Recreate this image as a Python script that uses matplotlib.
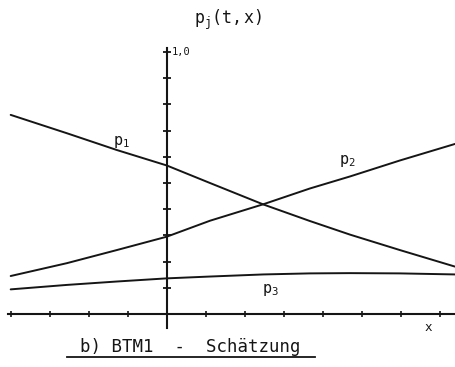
import matplotlib
matplotlib.use("Agg")
import matplotlib.pyplot as plt
from matplotlib.lines import Line2D

# ---- data ----
x_vals = [-4.0, -2.56, -1.28, 0.0, 1.11, 2.48, 3.67, 4.70, 5.98, 7.39]
p1 = [0.760, 0.690, 0.626, 0.567, 0.500, 0.418, 0.355, 0.303, 0.244, 0.181]
p2 = [0.145, 0.194, 0.244, 0.295, 0.356, 0.419, 0.479, 0.525, 0.586, 0.649]
p3 = [0.094, 0.111, 0.124, 0.136, 0.143, 0.151, 0.155, 0.156, 0.155, 0.151]
x_ticks = [-4, -3, -2, -1, 1, 2, 3, 4, 5, 6, 7]
y_ticks = [0.1, 0.2, 0.3, 0.4, 0.5, 0.6, 0.7, 0.8, 0.9, 1.0]
caption = "b) BTM1  -  Schätzung"

plt.rcParams['font.family'] = ['DejaVu Sans Mono']
plt.rcParams['mathtext.fontset'] = 'custom'
plt.rcParams['mathtext.rm'] = 'DejaVu Sans Mono'
plt.rcParams['mathtext.it'] = 'DejaVu Sans Mono'

fig = plt.figure(figsize=(4.56, 3.67), dpi=100)
ax = fig.add_axes([0, 0, 1, 1])
ax.set_xlim(-4.274, 7.418)
ax.set_ylim(-0.2023, 1.1985)

ink = '#151515'
for ys in (p1, p2, p3):
    ax.plot(x_vals, ys, color=ink, lw=1.4, solid_capstyle='round',
            solid_joinstyle='round')

# axes through origin
ax.spines['left'].set_position(('data', 0))
ax.spines['bottom'].set_position(('data', 0))
ax.spines['right'].set_visible(False)
ax.spines['top'].set_visible(False)
ax.spines['left'].set_bounds(-0.053, 1.015)
ax.spines['bottom'].set_bounds(-4.07, 7.42)
for s in ('left', 'bottom'):
    ax.spines[s].set_linewidth(1.5)
    ax.spines[s].set_color(ink)
ax.set_xticks(x_ticks)
ax.set_yticks(y_ticks)
ax.set_xticklabels([])
ax.set_yticklabels([])
ax.tick_params(axis='y', direction='inout', length=6, width=1.3, color=ink)
ax.tick_params(axis='x', direction='inout', length=4, width=1.2, color=ink)

# labels
ax.text(-1.17, 0.655, r'$\mathrm{p_1}$', fontsize=11, ha='center', va='center', color=ink)
ax.text(4.63, 0.585, r'$\mathrm{p_2}$', fontsize=11, ha='center', va='center', color=ink)
ax.text(2.65, 0.092, r'$\mathrm{p_3}$', fontsize=11, ha='center', va='center', color=ink)
ax.text(6.7, -0.053, 'x', fontsize=9, ha='center', va='center', color=ink)
ax.text(0.14, 1.0, '1,0', fontsize=7.5, ha='left', va='center', color=ink)

fig.text(228 / 456, 1 - 20 / 367, r'$\mathrm{p_j(t,x)}$', fontsize=12, ha='center', va='center', color=ink)
fig.text(190 / 456, 1 - 347 / 367, caption, fontsize=12.5, ha='center', va='center', color=ink)
fig.add_artist(Line2D([67 / 456, 315 / 456], [1 - 357 / 367, 1 - 357 / 367],
                      transform=fig.transFigure, color=ink, lw=1.3))

ax.set_facecolor('white')
fig.savefig('out.png', dpi=100, facecolor='white')
